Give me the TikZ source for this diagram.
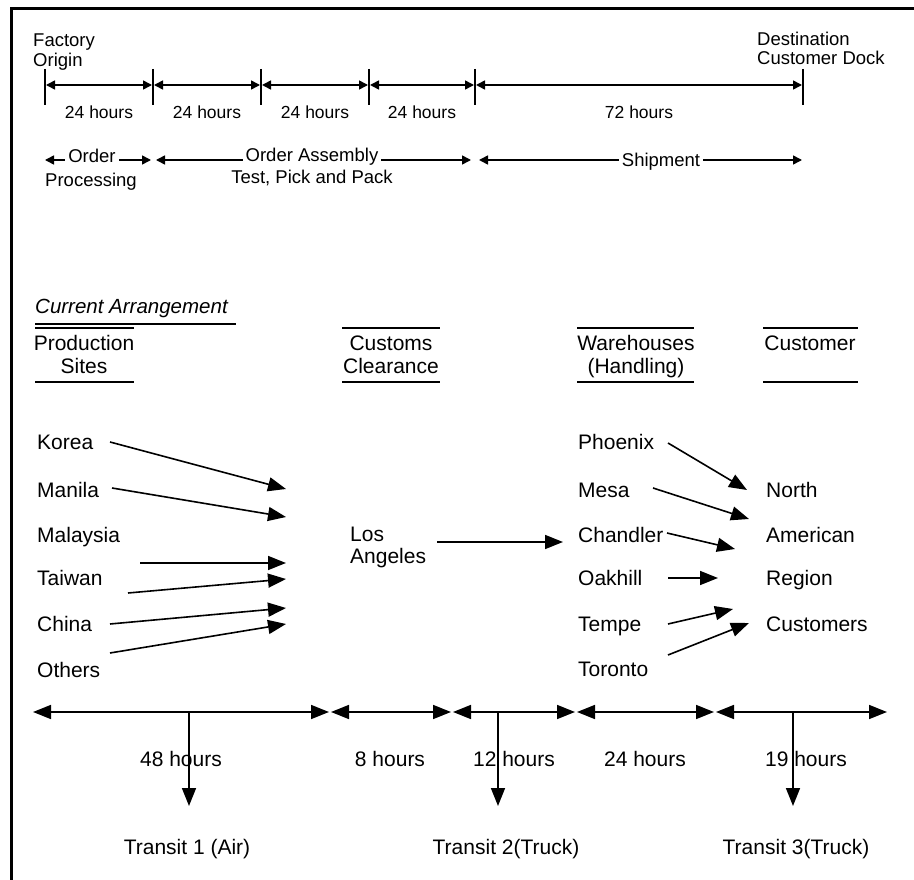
\documentclass[tikz,border=0pt]{standalone}
\usepackage{fontspec}
\setmainfont{Liberation Sans}
\usetikzlibrary{arrows.meta}
\tikzset{
  smt/.tip={Triangle[length=9pt,width=9pt]},
  bigt/.tip={Triangle[length=18pt,width=14pt]},
  base/.style={inner sep=0pt, text=black},
  big/.style={base, font=\fontsize{21}{24}\selectfont},
  ital/.style={base, font=\fontsize{20.5}{24}\selectfont\itshape},
  topl/.style={base, font=\fontsize{18.5}{20}\selectfont},
  hrs/.style={base, font=\fontsize{17.5}{20}\selectfont},
  ln/.style={line width=1.6pt},
  gap/.style={fill=white, inner xsep=3pt, inner ysep=1pt},
  frame/.style={line width=3pt},
}
\begin{document}
\begin{tikzpicture}[x=1pt,y=-1pt]
\useasboundingbox (0,0) rectangle (914,880);
\draw[frame] (11.5,880) -- (11.5,8.5) -- (914,8.5);

% ---------- top time line ----------
\foreach \n/\x in {t0/45,t1/153,t2/261,t3/369,t4/475,t5/803}
  \coordinate (\n) at (\x,85);
\foreach \n in {t0,t1,t2,t3,t4,t5}
  \draw[ln] (\n) ++(0,-16) -- ++(0,36);
\foreach \a/\b in {t0/t1,t1/t2,t2/t3,t3/t4,t4/t5}
  \draw[ln, smt-smt, shorten <=1pt, shorten >=1pt] (\a) -- (\b);

\node[topl, anchor=base west] (factory) at (33,46.6) {Factory};
\node[topl, anchor=base west] (origin) at (33,66.6) {Origin};
\node[topl, anchor=base west] (dest) at (757,45.6) {Destination};
\node[topl, anchor=base west] (dock) at (757,64.6) {Customer Dock};

\node[hrs, anchor=base] (h1) at (99,118.3) {24 hours};
\node[hrs, anchor=base] (h2) at (207,118.3) {24 hours};
\node[hrs, anchor=base] (h3) at (315,118.3) {24 hours};
\node[hrs, anchor=base] (h4) at (422,118.3) {24 hours};
\node[hrs, anchor=base] (h5) at (639,118.3) {72 hours};

% ---------- phases ----------
\foreach \n/\x in {p0/45,p1/151,p2/156,p3/471,p4/479,p5/802}
  \coordinate (\n) at (\x,160);
\draw[ln, smt-smt] (p0) -- (p1);
\draw[ln, smt-smt] (p2) -- (p3);
\draw[ln, smt-smt] (p4) -- (p5);

\node[topl, gap, anchor=base] (order) at (92,162.6) {Order};
\node[topl, anchor=base] (processing) at (91,186.6) {Processing};
\node[topl, gap, anchor=base] (assembly) at (312,161.6) {Order Assembly};
\node[topl, anchor=base] (tpp) at (312,183.6) {Test, Pick and Pack};
\node[topl, gap, anchor=base] (shipment) at (661,166.6) {Shipment};

% ---------- current arrangement ----------
\node[ital, anchor=base west] (current) at (35,313.5) {Current Arrangement};
\draw[ln] (current.south west) ++(0,6) -- ++(201,0);

\foreach \xa/\xb in {35/134, 342/440, 577/694, 763/858}{
  \draw[ln] (\xa,328) -- (\xb,328);
  \draw[ln] (\xa,382) -- (\xb,382);
}
\node[big, anchor=base] (prod) at (84,350) {Production};
\node[big, anchor=base] (sites) at (84,373) {Sites};
\node[big, anchor=base] (customs) at (391,350) {Customs};
\node[big, anchor=base] (clearance) at (391,373) {Clearance};
\node[big, anchor=base] (warehouses) at (636,350) {Warehouses};
\node[big, anchor=base] (handling) at (636,373) {(Handling)};
\node[big, anchor=base] (customer) at (810,350) {Customer};

% production sites
\node[big, anchor=base west] (korea) at (37,449) {Korea};
\node[big, anchor=base west] (manila) at (37,497) {Manila};
\node[big, anchor=base west] (malaysia) at (37,542) {Malaysia};
\node[big, anchor=base west] (taiwan) at (37,585) {Taiwan};
\node[big, anchor=base west] (china) at (37,631) {China};
\node[big, anchor=base west] (others) at (37,677) {Others};

% Los Angeles
\node[big, anchor=base west] (los) at (350,541) {Los};
\node[big, anchor=base west] (angeles) at (350,563) {Angeles};

% warehouses
\node[big, anchor=base west] (phoenix) at (578,449) {Phoenix};
\node[big, anchor=base west] (mesa) at (578,497) {Mesa};
\node[big, anchor=base west] (chandler) at (578,542) {Chandler};
\node[big, anchor=base west] (oakhill) at (578,585) {Oakhill};
\node[big, anchor=base west] (tempe) at (578,631) {Tempe};
\node[big, anchor=base west] (toronto) at (578,676) {Toronto};

% customers
\node[big, anchor=base west] (north) at (766,497) {North};
\node[big, anchor=base west] (american) at (766,542) {American};
\node[big, anchor=base west] (region) at (766,585) {Region};
\node[big, anchor=base west] (customers) at (766,631) {Customers};

% arrows into Los Angeles
\coordinate (ks) at (110,442);  \coordinate (ke) at (286,489);
\coordinate (ms) at (112,488);  \coordinate (me) at (286,517);
\coordinate (ws) at (140,563);  \coordinate (we) at (286,563);
\coordinate (xs) at (128,593);  \coordinate (xe) at (286,579);
\coordinate (cs) at (110,624);  \coordinate (ce) at (286,608);
\coordinate (os) at (110,653);  \coordinate (oe) at (286,624);
\foreach \a/\b in {ks/ke,ms/me,ws/we,xs/xe,cs/ce,os/oe}
  \draw[ln, -bigt] (\a) -- (\b);

% LA to warehouses
\coordinate (las) at (437,542);
\coordinate (lae) at (563,542);
\draw[ln, -bigt] (las) -- (lae);

% warehouses to customers
\coordinate (phs) at (668,443); \coordinate (phe) at (747,490);
\coordinate (mss) at (653,488); \coordinate (mse) at (749,519);
\coordinate (chs) at (667,533); \coordinate (che) at (735,549);
\coordinate (oks) at (668,578); \coordinate (oke) at (718,578);
\coordinate (tes) at (668,624); \coordinate (tee) at (733,609);
\coordinate (tos) at (668,655); \coordinate (toe) at (749,623);
\foreach \a/\b in {phs/phe,mss/mse,chs/che,oks/oke,tes/tee,tos/toe}
  \draw[ln, -bigt] (\a) -- (\b);

% ---------- bottom time line ----------
\foreach \n/\x in {b0/33,b1/329,b2/331,b3/451,b4/453,b5/575,b6/577,b7/714,b8/716,b9/887}
  \coordinate (\n) at (\x,712);
\foreach \a/\b in {b0/b1,b2/b3,b4/b5,b6/b7,b8/b9}
  \draw[ln, bigt-bigt] (\a) -- (\b);

\foreach \n/\x in {v1/189,v2/498,v3/793}{
  \coordinate (\n t) at (\x,712);
  \coordinate (\n b) at (\x,806);
}
\foreach \n in {v1,v2,v3}
  \draw[ln, -bigt] (\n t) -- (\n b);

\node[big, anchor=base] (h48) at (181,766) {48 hours};
\node[big, anchor=base] (h8) at (390,766) {8 hours};
\node[big, anchor=base] (h12) at (514,766) {12 hours};
\node[big, anchor=base] (h24) at (645,766) {24 hours};
\node[big, anchor=base] (h19) at (806,766) {19 hours};

\node[big, anchor=base] (tr1) at (187,854) {Transit 1 (Air)};
\node[big, anchor=base] (tr2) at (506,854) {Transit 2(Truck)};
\node[big, anchor=base] (tr3) at (796,854) {Transit 3(Truck)};
\end{tikzpicture}
\end{document}
